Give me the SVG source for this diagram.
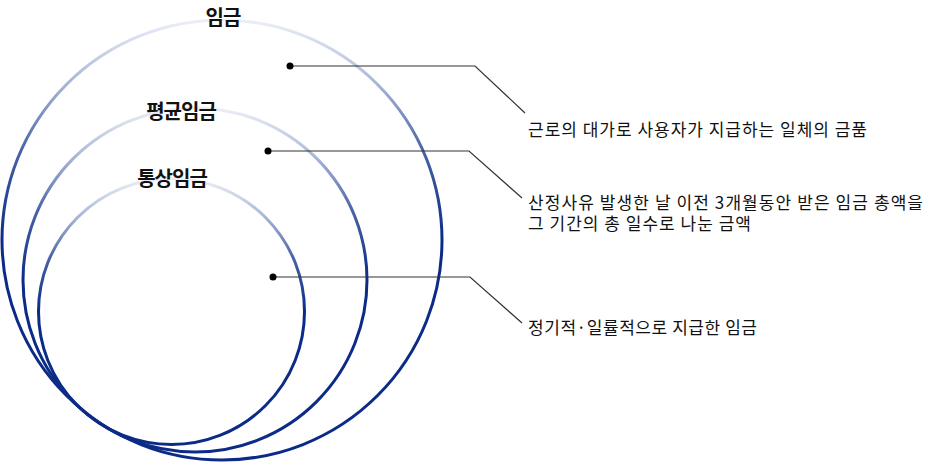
<svg xmlns="http://www.w3.org/2000/svg" width="940" height="463" viewBox="0 0 940 463">
<defs>
<linearGradient id="ring" x1="0" y1="0" x2="0" y2="1">
<stop offset="0" stop-color="#eceff7"/>
<stop offset="0.14" stop-color="#a9b7d8"/>
<stop offset="0.3" stop-color="#4863a5"/>
<stop offset="0.5" stop-color="#0b2b87"/>
<stop offset="1" stop-color="#0b2b87"/>
</linearGradient>
<style>
.ring{fill:none;stroke:url(#ring);stroke-width:3}
.title{font-family:"Noto Sans CJK KR","Noto Sans",sans-serif;font-weight:bold;font-size:20px;fill:#111;text-anchor:middle;letter-spacing:-1px}
.desc{font-family:"Noto Sans CJK KR","Noto Sans",sans-serif;font-size:17px;fill:#111}
.lead{fill:none;stroke:#333;stroke-width:1.2}
.dot{fill:#000}
</style>
</defs>
<rect width="940" height="463" fill="#fff"/>
<g id="node-wage">
<circle class="ring" cx="222" cy="240" r="220"/>
<text class="title" x="223" y="25">임금</text>
</g>
<g id="node-average-wage">
<circle class="ring" cx="195" cy="280" r="172"/>
<text class="title" x="181" y="119">평균임금</text>
</g>
<g id="node-ordinary-wage">
<circle class="ring" cx="171.5" cy="311.5" r="133"/>
<text class="title" x="172" y="186">통상임금</text>
</g>
<g id="connectors">
<polyline class="lead" points="290,66 475,66 525,113"/>
<circle class="dot" cx="290" cy="66" r="3.5"/>
<polyline class="lead" points="268,151 469,151 522,198"/>
<circle class="dot" cx="268" cy="151" r="3.5"/>
<polyline class="lead" points="273,277 470,277 522,323"/>
<circle class="dot" cx="273" cy="277" r="3.5"/>
</g>
<g id="label-wage">
<text class="desc" x="528" y="136" textLength="339" lengthAdjust="spacing">근로의 대가로 사용자가 지급하는 일체의 금품</text>
</g>
<g id="label-average-wage">
<text class="desc" x="528" y="209" textLength="395" lengthAdjust="spacing">산정사유 발생한 날 이전 3개월동안 받은 임금 총액을</text>
<text class="desc" x="528" y="230" textLength="223" lengthAdjust="spacing">그 기간의 총 일수로 나눈 금액</text>
</g>
<g id="label-ordinary-wage">
<text class="desc" x="528" y="334" textLength="229" lengthAdjust="spacing">정기적·일률적으로 지급한 임금</text>
</g>
</svg>
